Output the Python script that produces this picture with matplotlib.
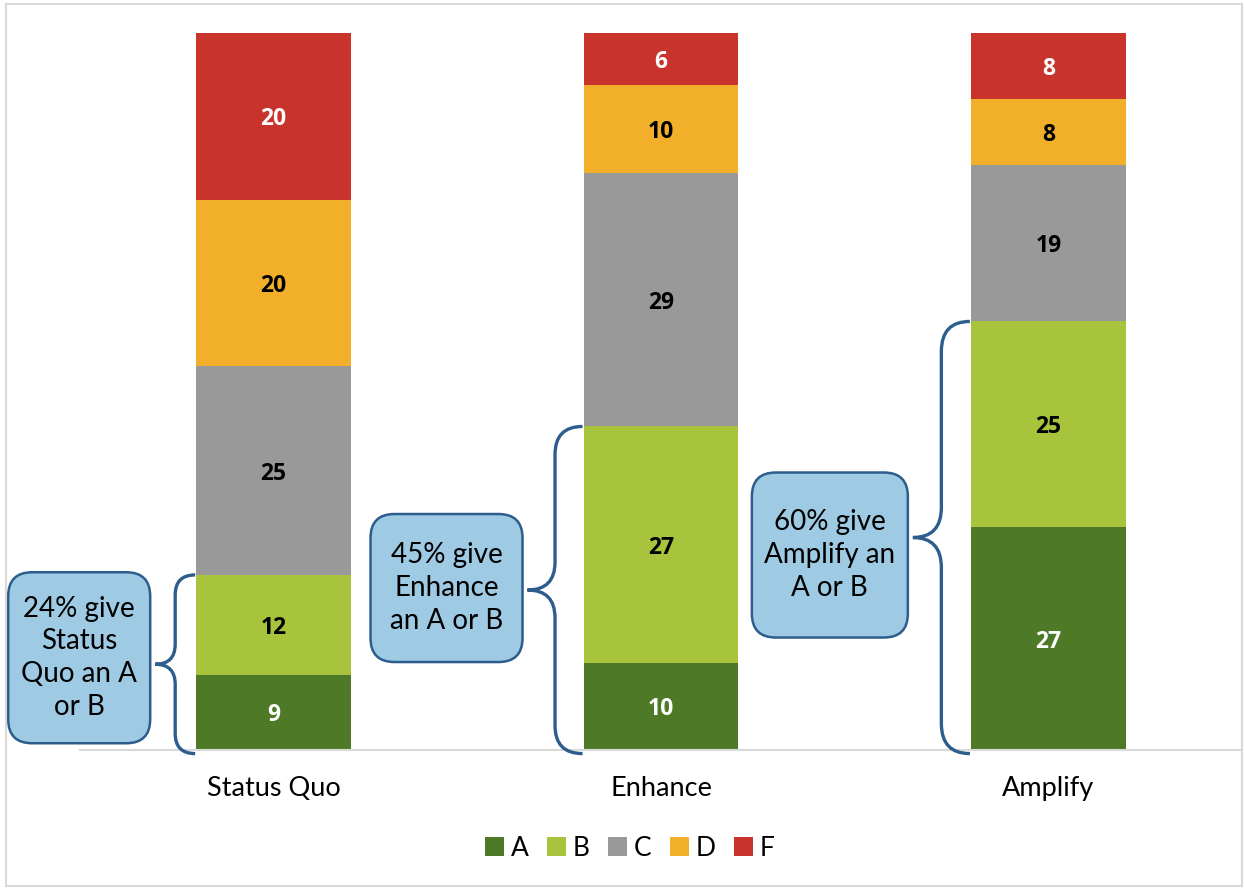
import numpy as np
import matplotlib
matplotlib.use("Agg")
import matplotlib.pyplot as plt
from matplotlib.patches import FancyBboxPatch, Rectangle, Patch, PathPatch
from matplotlib.path import Path
from matplotlib.transforms import ScaledTranslation

plt.rcParams['font.family'] = ['Lato', 'DejaVu Sans']

categories = ['Status Quo', 'Enhance', 'Amplify']
grades = ['A', 'B', 'C', 'D', 'F']
counts = {
    'A': [9, 10, 27],
    'B': [12, 27, 25],
    'C': [25, 29, 19],
    'D': [20, 10, 8],
    'F': [20, 6, 8],
}
colors = {'A': '#4e7a28', 'B': '#a8c33c', 'C': '#999999', 'D': '#f1af2a', 'F': '#c8332b'}
label_colors = {'A': 'white', 'B': 'black', 'C': 'black', 'D': 'black', 'F': 'white'}
callouts = ['24% give\nStatus\nQuo an A\nor B',
            '45% give\nEnhance\nan A or B',
            '60% give\nAmplify an\nA or B']

fig = plt.figure(figsize=(12.44, 8.88), dpi=100)
ax = fig.add_axes([80 / 1244, 138 / 888, 1162 / 1244, 717 / 888])

x = np.arange(len(categories))
width = 0.4
totals = np.sum([counts[g] for g in grades], axis=0)

# 100% stacked bars, labelled with the raw counts
bottom = np.zeros(len(categories))
for g in grades:
    vals = np.array(counts[g], dtype=float)
    share = vals / totals * 100
    ax.bar(x, share, width, bottom=bottom, color=colors[g], label=g, zorder=2)
    for xi, b, s, v in zip(x, bottom, share, vals):
        ax.text(xi, b + s / 2, f'{int(v)}', ha='center', va='center_baseline',
                fontsize=16.5, fontweight='bold', family=['Open Sans', 'DejaVu Sans'],
                color=label_colors[g])
    bottom += share

ax.set_xlim(-0.5, 2.5)
ax.set_ylim(0, 100)
ax.set_yticks([])
ax.set_xticks(x)
ax.set_xticklabels(categories, fontsize=19.5)
ax.tick_params(axis='x', length=0, pad=19)
for side in ['top', 'left', 'right']:
    ax.spines[side].set_visible(False)
ax.spines['bottom'].set_color('#d9d9d9')
ax.spines['bottom'].set_linewidth(1.5)

# share of A+B per option, bracketed by a curly brace and a callout box
px = 1 / 387.3  # one pixel in x data units
py = 100 / 717  # one pixel in y data units
ab_share = (np.array(counts['A']) + np.array(counts['B'])) / totals * 100
brace_w = [40, 55, 57]
brace_c = [20, 28, 30]
box_sizes = [(142, 171), (152, 148), (156, 165)]
box_shift = [6.5, 2, -17.5]
brace_col = '#2c5d8c'

for i, (share, text) in enumerate(zip(ab_share, callouts)):
    xe = x[i] - width / 2 - 1 * px
    xt = xe - brace_w[i] * px
    xv = (xe + xt) / 2
    y0, y1 = -0.5, share
    ym = (y0 + y1) / 2
    c = brace_c[i] * py
    verts = [(xe, y1), (xv, y1), (xv, y1 - c),
             (xv, ym + c), (xv, ym), (xt, ym),
             (xv, ym), (xv, ym - c),
             (xv, y0 + c), (xv, y0), (xe, y0)]
    codes = [Path.MOVETO, Path.CURVE3, Path.CURVE3,
             Path.LINETO, Path.CURVE3, Path.CURVE3,
             Path.CURVE3, Path.CURVE3,
             Path.LINETO, Path.CURVE3, Path.CURVE3]
    ax.add_patch(PathPatch(Path(verts, codes), fill=False, edgecolor=brace_col,
                           lw=2.4, clip_on=False, zorder=3))

    bw, bh = box_sizes[i]
    cx = xt - (5 + bw / 2) * px
    cy = ym + box_shift[i] * py
    tr = fig.dpi_scale_trans + ScaledTranslation(cx, cy, ax.transData)
    box = FancyBboxPatch((-bw / 200, -bh / 200), bw / 100, bh / 100,
                         boxstyle='round,pad=0,rounding_size=0.24',
                         facecolor='#9fcae3', edgecolor=brace_col, lw=1.8,
                         transform=tr, clip_on=False, zorder=4)
    ax.add_patch(box)
    ax.text(cx, cy, text, ha='center', va='center', fontsize=20,
            linespacing=1.32, color='black', zorder=5)

handles = [Patch(facecolor=colors[g], label=g) for g in grades]
fig.legend(handles=handles, loc='center', bbox_to_anchor=(630 / 1244, 1 - 848 / 888),
           ncol=5, frameon=False, fontsize=19, handlelength=0.72, handleheight=0.72,
           handletextpad=0.25, columnspacing=0.7)

# light grey outline round the chart area
fig.patches.append(Rectangle((6 / 1244, 2 / 888), 1236 / 1244, 882 / 888,
                             transform=fig.transFigure, fill=False,
                             edgecolor='#d9d9d9', lw=1.5))

fig.savefig('out.png', dpi=100)
